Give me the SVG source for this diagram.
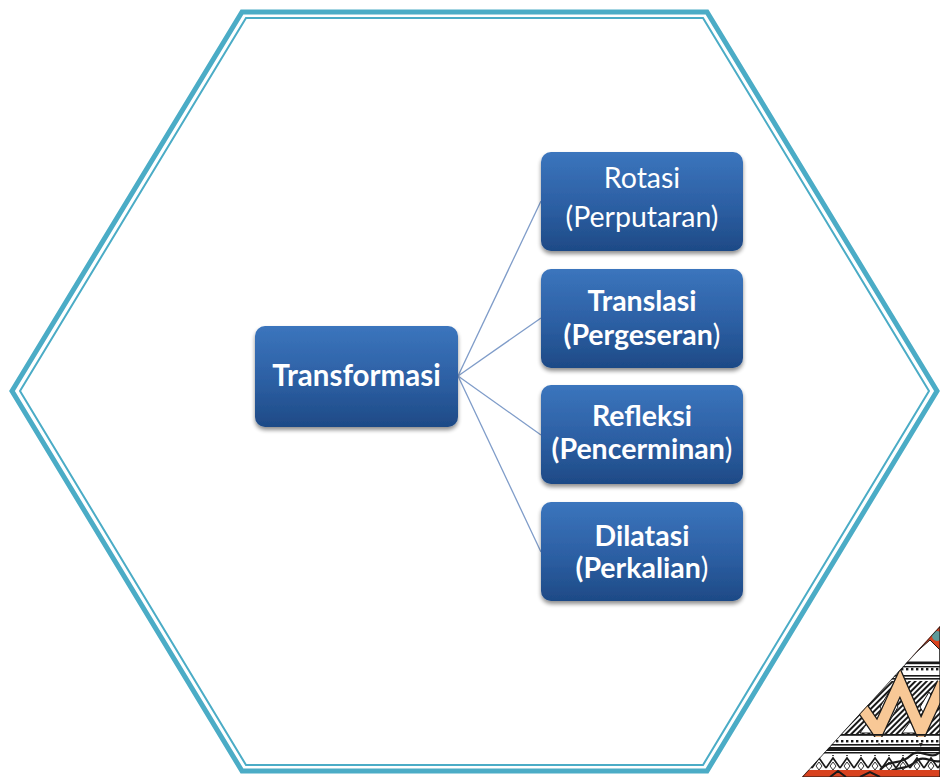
<svg xmlns="http://www.w3.org/2000/svg" width="940" height="777" viewBox="0 0 940 777">
  <defs>
    <linearGradient id="boxFill" x1="0" y1="0" x2="0" y2="1">
      <stop offset="0" stop-color="#3b75bd"/>
      <stop offset="0.55" stop-color="#2c5fa3"/>
      <stop offset="1" stop-color="#1e4a86"/>
    </linearGradient>
    <filter id="shadow" x="-10%" y="-10%" width="120%" height="130%">
      <feGaussianBlur in="SourceAlpha" stdDeviation="2.2"/>
      <feOffset dx="0" dy="3" result="b"/>
      <feComponentTransfer><feFuncA type="linear" slope="0.45"/></feComponentTransfer>
      <feMerge><feMergeNode/><feMergeNode in="SourceGraphic"/></feMerge>
    </filter>
    <clipPath id="cornerClip">
      <polygon points="940,626 940,777 802,777"/>
    </clipPath>
    <pattern id="hatch" width="4" height="4" patternUnits="userSpaceOnUse" patternTransform="rotate(45)">
      <rect width="4" height="4" fill="#ffffff"/>
      <rect width="2" height="4" fill="#1a1a1a"/>
    </pattern>
    <pattern id="dots" width="5" height="6" patternUnits="userSpaceOnUse">
      <rect width="5" height="6" fill="#ffffff"/>
      <rect x="1" y="2" width="2.4" height="2.4" fill="#1a1a1a"/>
    </pattern>
    <pattern id="zig" width="14" height="14" patternUnits="userSpaceOnUse">
      <rect width="14" height="14" fill="#ffffff"/>
      <polyline points="0,12 7,2 14,12" fill="none" stroke="#1a1a1a" stroke-width="1.6"/>
      <polygon points="7,6 10,10 7,14 4,10" fill="none" stroke="#1a1a1a" stroke-width="0.9"/>
    </pattern>
    <style>
      .hex-outer { fill: none; stroke: #4bacc6; stroke-width: 5; stroke-linejoin: miter; }
      .hex-inner { fill: none; stroke: #4bacc6; stroke-width: 2; stroke-linejoin: miter; }
      .box { fill: url(#boxFill); filter: url(#shadow); }
      .label { font-family: Lato, "Open Sans", "Liberation Sans", sans-serif; fill: #ffffff; text-anchor: middle; font-size: 28.5px; }
      .bold { font-weight: bold; }
      .conn { stroke: #7f9cc9; stroke-width: 1.3; fill: none; }
    </style>
  </defs>

  <rect width="940" height="777" fill="#ffffff"/>

  <!-- hexagonal frame: heavy outer rule with a thin inner rule -->
  <g id="frame">
    <polygon class="hex-outer" points="12,391 242,12 707,12 937,391 707,771 242,771"/>
    <polygon class="hex-inner" points="20,391 246,18 703,18 929,391 703,765 246,765"/>
  </g>

  <!-- woven ornament in the lower right corner -->
  <g id="ornament" clip-path="url(#cornerClip)">
    <rect x="800" y="620" width="140" height="157" fill="#ffffff"/>
    <rect x="800" y="620" width="140" height="42" fill="#d8421f"/>
    <polygon points="905,662 930,640 940,650 940,662" fill="#ffffff" stroke="#1a1a1a" stroke-width="1"/>
    <circle cx="937" cy="636" r="5" fill="#5f9a9a"/>
    <rect x="800" y="662" width="140" height="2.2" fill="#1a1a1a"/>
    <rect x="800" y="666" width="140" height="1.4" fill="#1a1a1a"/>
    <rect x="800" y="668" width="140" height="6" fill="url(#dots)"/>
    <rect x="800" y="675" width="140" height="1.6" fill="#1a1a1a"/>
    <rect x="800" y="678" width="140" height="1.6" fill="#1a1a1a"/>
    <rect x="800" y="681" width="140" height="53" fill="url(#hatch)"/>
    <g fill="#ffffff" stroke="#1a1a1a" stroke-width="1">
      <polygon points="889,692 898,707 889,722 880,707"/>
      <polygon points="929,692 938,707 929,722 920,707"/>
      <polygon points="868,722 876,733 860,733"/>
      <polygon points="910,722 918,733 902,733"/>
    </g>
    <g fill="#1a1a1a">
      <circle cx="889" cy="707" r="2.2"/>
      <circle cx="929" cy="707" r="2.2"/>
      <circle cx="868" cy="700" r="2"/>
    </g>
    <polyline points="850,690 878,731 900,683 921,731 943,683" fill="none" stroke="#1a1a1a" stroke-width="13" stroke-linejoin="miter"/>
    <polyline points="850,690 878,731 900,683 921,731 943,683" fill="none" stroke="#f8c896" stroke-width="10.5" stroke-linejoin="miter"/>
    <rect x="800" y="734" width="140" height="1.8" fill="#1a1a1a"/>
    <rect x="800" y="737" width="140" height="6" fill="url(#dots)"/>
    <rect x="800" y="744" width="140" height="1.6" fill="#1a1a1a"/>
    <rect x="800" y="747" width="140" height="4" fill="#1a1a1a"/>
    <rect x="800" y="752" width="140" height="1.5" fill="#1a1a1a"/>
    <rect x="800" y="755" width="140" height="15" fill="url(#zig)"/>
    <g fill="none" stroke="#1a1a1a" stroke-width="2.2">
      <path d="M880,770 C890,758 900,766 910,756 S930,762 940,752"/>
      <path d="M885,776 C895,764 905,772 915,762 S935,768 945,758"/>
    </g>
    <rect x="800" y="770" width="140" height="7" fill="#d8421f"/>
    <path d="M830,777 L838,771 L846,777 M860,777 L870,772 L880,777" fill="none" stroke="#1a1a1a" stroke-width="2"/>
    <polygon points="940,626 940,777 802,777" fill="none" stroke="#1a1a1a" stroke-width="1.2"/>
  </g>

  <!-- connectors from the root to each child -->
  <g id="connectors">
    <line class="conn" x1="458" y1="376" x2="541" y2="201"/>
    <line class="conn" x1="458" y1="376" x2="541" y2="318"/>
    <line class="conn" x1="458" y1="376" x2="541" y2="435"/>
    <line class="conn" x1="458" y1="376" x2="541" y2="552"/>
  </g>

  <g id="node-transformasi">
    <rect class="box" x="255" y="326" width="203" height="101" rx="10"/>
    <text class="label bold" x="356.5" y="386" style="font-size:29.5px">Transformasi</text>
  </g>

  <g id="node-rotasi">
    <rect class="box" x="541" y="152" width="202" height="99" rx="10"/>
    <text class="label" x="642" y="188">Rotasi</text>
    <text class="label" x="642" y="227">(Perputaran)</text>
  </g>

  <g id="node-translasi">
    <rect class="box" x="541" y="269" width="202" height="99" rx="10"/>
    <text class="label bold" x="642" y="311">Translasi</text>
    <text class="label bold" x="642" y="345">(Pergeseran<tspan font-weight="normal">)</tspan></text>
  </g>

  <g id="node-refleksi">
    <rect class="box" x="541" y="385" width="202" height="99" rx="10"/>
    <text class="label bold" x="642" y="426">Refleksi</text>
    <text class="label bold" x="642" y="459">(Pencerminan<tspan font-weight="normal">)</tspan></text>
  </g>

  <g id="node-dilatasi">
    <rect class="box" x="541" y="502" width="202" height="99" rx="10"/>
    <text class="label bold" x="642" y="546">Dilatasi</text>
    <text class="label bold" x="642" y="578">(Perkalian<tspan font-weight="normal">)</tspan></text>
  </g>
</svg>
